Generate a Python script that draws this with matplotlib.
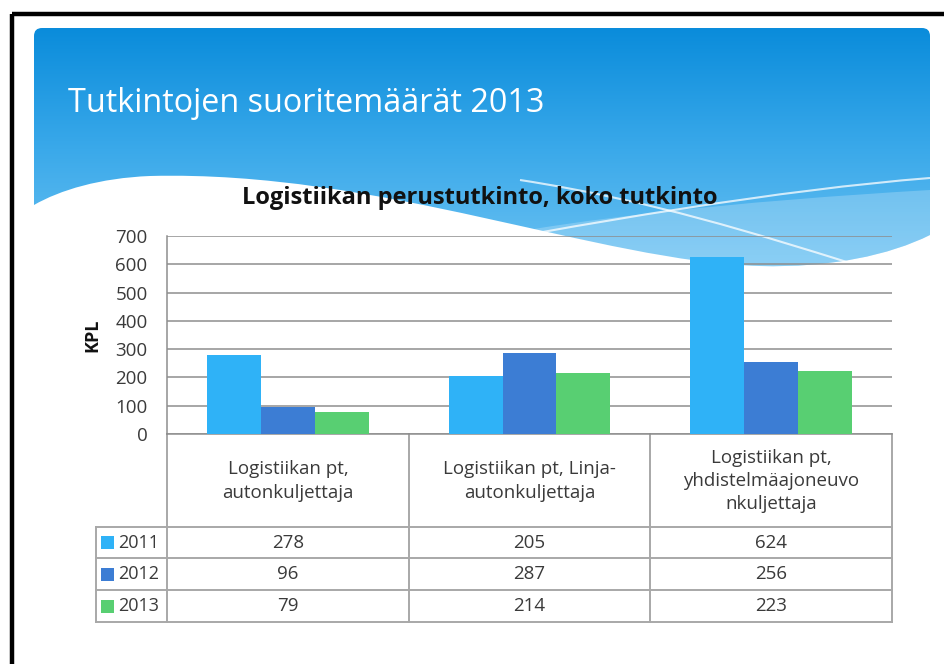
import numpy as np
import matplotlib
matplotlib.use("Agg")
import matplotlib.pyplot as plt
from matplotlib.path import Path
from matplotlib.patches import PathPatch
from matplotlib.colors import LinearSegmentedColormap

# Data
categories = [
    "Logistiikan pt,\nautonkuljettaja",
    "Logistiikan pt, Linja-\nautonkuljettaja",
    "Logistiikan pt,\nyhdistelmäajoneuvo\nnkuljettaja",
]
years = ["2011", "2012", "2013"]
v2011 = [278, 205, 624]
v2012 = [96, 287, 256]
v2013 = [79, 214, 223]
series = [v2011, v2012, v2013]
colors = ["#2fb2f7", "#3c7dd4", "#58cf72"]

plt.rcParams['font.family'] = ['Open Sans', 'DejaVu Sans']
txt = "#3a3a3a"
grid_c = "#8e8e8e"
tab_c = "#a8a8a8"

fig = plt.figure(figsize=(9.45, 6.64), dpi=100)
bg = fig.add_axes([0, 0, 1, 1])
bg.set_xlim(0, 945)
bg.set_ylim(664, 0)
bg.axis("off")

# black frame (top and left)
bg.plot([12, 945], [14, 14], color="black", lw=3.2, solid_capstyle="butt")
bg.plot([12, 12], [14, 664], color="black", lw=3.2, solid_capstyle="butt")

# header with gradient
verts = [(34, 205), (34, 36), (34, 28), (42, 28), (922, 28), (930, 28), (930, 36),
         (930, 235),
         (890, 255), (830, 268), (760, 266),
         (600, 262), (380, 170), (150, 176),
         (100, 178), (60, 190), (34, 205)]
codes = [Path.MOVETO, Path.LINETO, Path.CURVE3, Path.CURVE3, Path.LINETO,
         Path.CURVE3, Path.CURVE3, Path.LINETO,
         Path.CURVE4, Path.CURVE4, Path.CURVE4,
         Path.CURVE4, Path.CURVE4, Path.CURVE4,
         Path.CURVE4, Path.CURVE4, Path.CURVE4]
hdr = PathPatch(Path(verts, codes), facecolor="none", edgecolor="none")
bg.add_patch(hdr)
cmap = LinearSegmentedColormap.from_list("hdr", ["#0a8cdb", "#3aa9ea", "#6cc2f2"])
grad = np.linspace(0, 1, 256).reshape(-1, 1)
im = bg.imshow(grad, cmap=cmap, extent=[34, 930, 270, 28], aspect="auto", zorder=1)
im.set_clip_path(hdr)

# lighter swoosh band near bottom
sw_v = [(380, 262), (520, 220), (760, 200), (930, 190), (930, 235),
        (890, 255), (830, 268), (760, 266), (600, 264), (480, 262), (380, 262)]
sw = Path(sw_v, [Path.MOVETO, Path.CURVE4, Path.CURVE4, Path.CURVE4, Path.LINETO,
                 Path.CURVE4, Path.CURVE4, Path.CURVE4, Path.CURVE4, Path.CURVE4, Path.CURVE4])
bg.add_patch(PathPatch(sw, facecolor="white", edgecolor="none", alpha=0.22, zorder=2))
# thin white lines
l1 = Path([(380, 262), (600, 220), (780, 190), (930, 178)],
          [Path.MOVETO, Path.CURVE4, Path.CURVE4, Path.CURVE4])
l2 = Path([(520, 180), (650, 200), (760, 235), (850, 263)],
          [Path.MOVETO, Path.CURVE4, Path.CURVE4, Path.CURVE4])
for p in (l1, l2):
    bg.add_patch(PathPatch(p, facecolor="none", edgecolor="white", lw=1.5, alpha=0.75, zorder=2))

bg.text(68, 104, "Tutkintojen suoritemäärät 2013", color="white", fontsize=23.3,
        va="center", ha="left", zorder=3)
bg.text(480, 198, "Logistiikan perustutkinto, koko tutkinto", color="#111111",
        fontsize=17, fontweight="bold", va="center", ha="center", zorder=3)
bg.text(92, 335, "KPL", color="#111111", fontsize=13, fontweight="bold",
        rotation=90, va="center", ha="center", zorder=3)

# bar chart
ax = fig.add_axes([167 / 945, (664 - 434) / 664, 725 / 945, 198 / 664])
ax.set_facecolor("none")
ax.set_zorder(5)
x = np.arange(len(categories))
w = 0.2234
for i, (vals, c) in enumerate(zip(series, colors)):
    ax.bar(x + (i - 1) * w, vals, width=w, color=c, zorder=3)
ax.set_xlim(-0.5, 2.5)
ax.set_ylim(0, 700)
ax.set_yticks(range(0, 701, 100))
ax.yaxis.grid(True, color=grid_c, lw=1.1)
ax.set_axisbelow(True)
ax.set_xticks([])
ax.tick_params(axis="y", length=0, pad=14, labelsize=13.5, labelcolor=txt)
for s in ("top", "right"):
    ax.spines[s].set_visible(False)
for s in ("left", "bottom"):
    ax.spines[s].set_color(grid_c)
    ax.spines[s].set_linewidth(1.1)

# data table
col_x = [167, 409, 650, 892]
row_y = [434, 527, 558, 590, 622]
lw_t = 1.4
for xx in col_x:
    bg.plot([xx, xx], [434, 622], color=tab_c, lw=lw_t, zorder=3)
bg.plot([96, 96], [527, 622], color=tab_c, lw=lw_t, zorder=3)
for yy in row_y[1:]:
    bg.plot([96, 892], [yy, yy], color=tab_c, lw=lw_t, zorder=3)

for j, cat in enumerate(categories):
    cx = (col_x[j] + col_x[j + 1]) / 2
    bg.text(cx, 481, cat, ha="center", va="center", fontsize=13.5, color=txt,
            linespacing=1.38, zorder=4)

for i, (yr, vals, c) in enumerate(zip(years, series, colors)):
    cy = (row_y[i + 1] + row_y[i + 2]) / 2
    bg.add_patch(plt.Rectangle((101, cy - 6.5), 13, 13, facecolor=c, edgecolor="none", zorder=4))
    bg.text(118, cy, yr, ha="left", va="center", fontsize=13, color=txt, zorder=4)
    for j, v in enumerate(vals):
        cx = (col_x[j] + col_x[j + 1]) / 2
        bg.text(cx, cy, str(v), ha="center", va="center", fontsize=13.5, color=txt, zorder=4)

fig.savefig("out.png", dpi=100)
